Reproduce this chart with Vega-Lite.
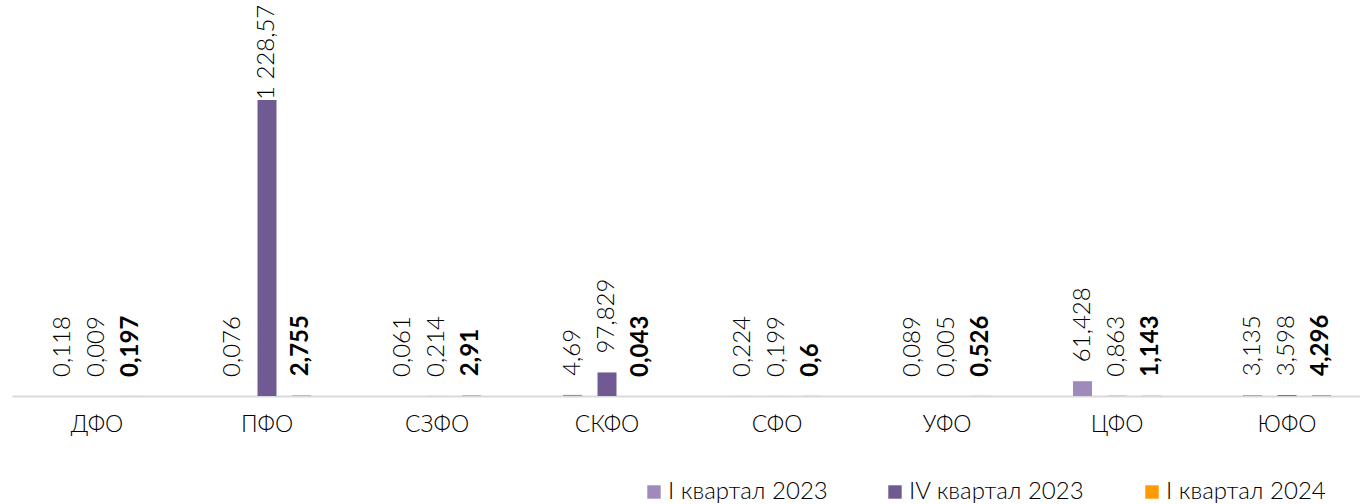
{
  "$schema": "https://vega.github.io/schema/vega-lite/v6.json",
  "width": 1348,
  "height": 396,
  "autosize": {"type": "none"},
  "padding": {"left": 12, "top": 0, "right": 0, "bottom": 108},
  "background": "#ffffff",
  "config": {"view": {"stroke": null}},
  "data": {"values": [
    {"region": "ДФО", "series": "I квартал 2023", "value": 0.118, "label": "0,118"},
    {"region": "ДФО", "series": "IV квартал 2023", "value": 0.009, "label": "0,009"},
    {"region": "ДФО", "series": "I квартал 2024", "value": 0.197, "label": "0,197"},
    {"region": "ПФО", "series": "I квартал 2023", "value": 0.076, "label": "0,076"},
    {"region": "ПФО", "series": "IV квартал 2023", "value": 1228.57, "label": "1 228,57"},
    {"region": "ПФО", "series": "I квартал 2024", "value": 2.755, "label": "2,755"},
    {"region": "СЗФО", "series": "I квартал 2023", "value": 0.061, "label": "0,061"},
    {"region": "СЗФО", "series": "IV квартал 2023", "value": 0.214, "label": "0,214"},
    {"region": "СЗФО", "series": "I квартал 2024", "value": 2.91, "label": "2,91"},
    {"region": "СКФО", "series": "I квартал 2023", "value": 4.69, "label": "4,69"},
    {"region": "СКФО", "series": "IV квартал 2023", "value": 97.829, "label": "97,829"},
    {"region": "СКФО", "series": "I квартал 2024", "value": 0.043, "label": "0,043"},
    {"region": "СФО", "series": "I квартал 2023", "value": 0.224, "label": "0,224"},
    {"region": "СФО", "series": "IV квартал 2023", "value": 0.199, "label": "0,199"},
    {"region": "СФО", "series": "I квартал 2024", "value": 0.6, "label": "0,6"},
    {"region": "УФО", "series": "I квартал 2023", "value": 0.089, "label": "0,089"},
    {"region": "УФО", "series": "IV квартал 2023", "value": 0.005, "label": "0,005"},
    {"region": "УФО", "series": "I квартал 2024", "value": 0.526, "label": "0,526"},
    {"region": "ЦФО", "series": "I квартал 2023", "value": 61.428, "label": "61,428"},
    {"region": "ЦФО", "series": "IV квартал 2023", "value": 0.863, "label": "0,863"},
    {"region": "ЦФО", "series": "I квартал 2024", "value": 1.143, "label": "1,143"},
    {"region": "ЮФО", "series": "I квартал 2023", "value": 3.135, "label": "3,135"},
    {"region": "ЮФО", "series": "IV квартал 2023", "value": 3.598, "label": "3,598"},
    {"region": "ЮФО", "series": "I квартал 2024", "value": 4.296, "label": "4,296"}
  ]},
  "encoding": {
    "x": {
      "field": "region", "type": "nominal", "sort": null,
      "scale": {"range": [0, 1360], "paddingInner": 0.39, "paddingOuter": 0.195},
      "axis": {
        "title": null, "ticks": false, "domainColor": "#d9d9d9", "domainWidth": 2,
        "labelAngle": 0, "labelFont": "Lato", "labelFontSize": 23, "labelFontWeight": 300, "labelColor": "#000000",
        "labelPadding": 17, "grid": false
      }
    },
    "xOffset": {
      "field": "series", "type": "nominal",
      "sort": ["I квартал 2023", "IV квартал 2023", "I квартал 2024"],
      "scale": {"paddingInner": 0.45, "paddingOuter": 0.228}
    }
  },
  "layer": [
    {
      "mark": {"type": "bar"},
      "encoding": {
        "y": {"field": "value", "type": "quantitative", "scale": {"domain": [0, 1644], "range": [396, 0]}, "axis": null},
        "color": {
          "field": "series", "type": "nominal",
          "sort": ["I квартал 2023", "IV квартал 2023", "I квартал 2024"],
          "scale": {"domain": ["I квартал 2023", "IV квартал 2023", "I квартал 2024"], "range": ["#9f8bbb", "#705a93", "#ff9a00"]},
          "legend": {
            "title": null, "orient": "none", "direction": "horizontal",
            "legendX": 630, "legendY": 480, "padding": 0,
            "symbolType": "square", "symbolSize": 180, "symbolStrokeWidth": 0,
            "labelFont": "Lato", "labelFontSize": 24, "labelFontWeight": 300, "labelColor": "#000000",
            "labelOffset": 2, "columnPadding": 55, "labelLimit": 400
          }
        }
      }
    },
    {
      "transform": [{"filter": "datum.series !== 'I квартал 2024'"}],
      "mark": {"type": "text", "angle": 270, "align": "left", "baseline": "middle", "dx": 19, "font": "Lato", "fontSize": 24, "fontWeight": 300, "fill": "#000000"},
      "encoding": {
        "y": {"field": "value", "type": "quantitative", "scale": {"domain": [0, 1150], "range": [396, 119], "clamp": true}, "axis": null},
        "text": {"field": "label"}
      }
    },
    {
      "transform": [{"filter": "datum.series === 'I квартал 2024'"}],
      "mark": {"type": "text", "angle": 270, "align": "left", "baseline": "middle", "dx": 19, "font": "Lato", "fontSize": 24, "fontWeight": "bold", "fill": "#000000"},
      "encoding": {
        "y": {"field": "value", "type": "quantitative", "scale": {"domain": [0, 1150], "range": [396, 119], "clamp": true}, "axis": null},
        "text": {"field": "label"}
      }
    }
  ],
  "resolve": {"scale": {"y": "independent"}}
}
